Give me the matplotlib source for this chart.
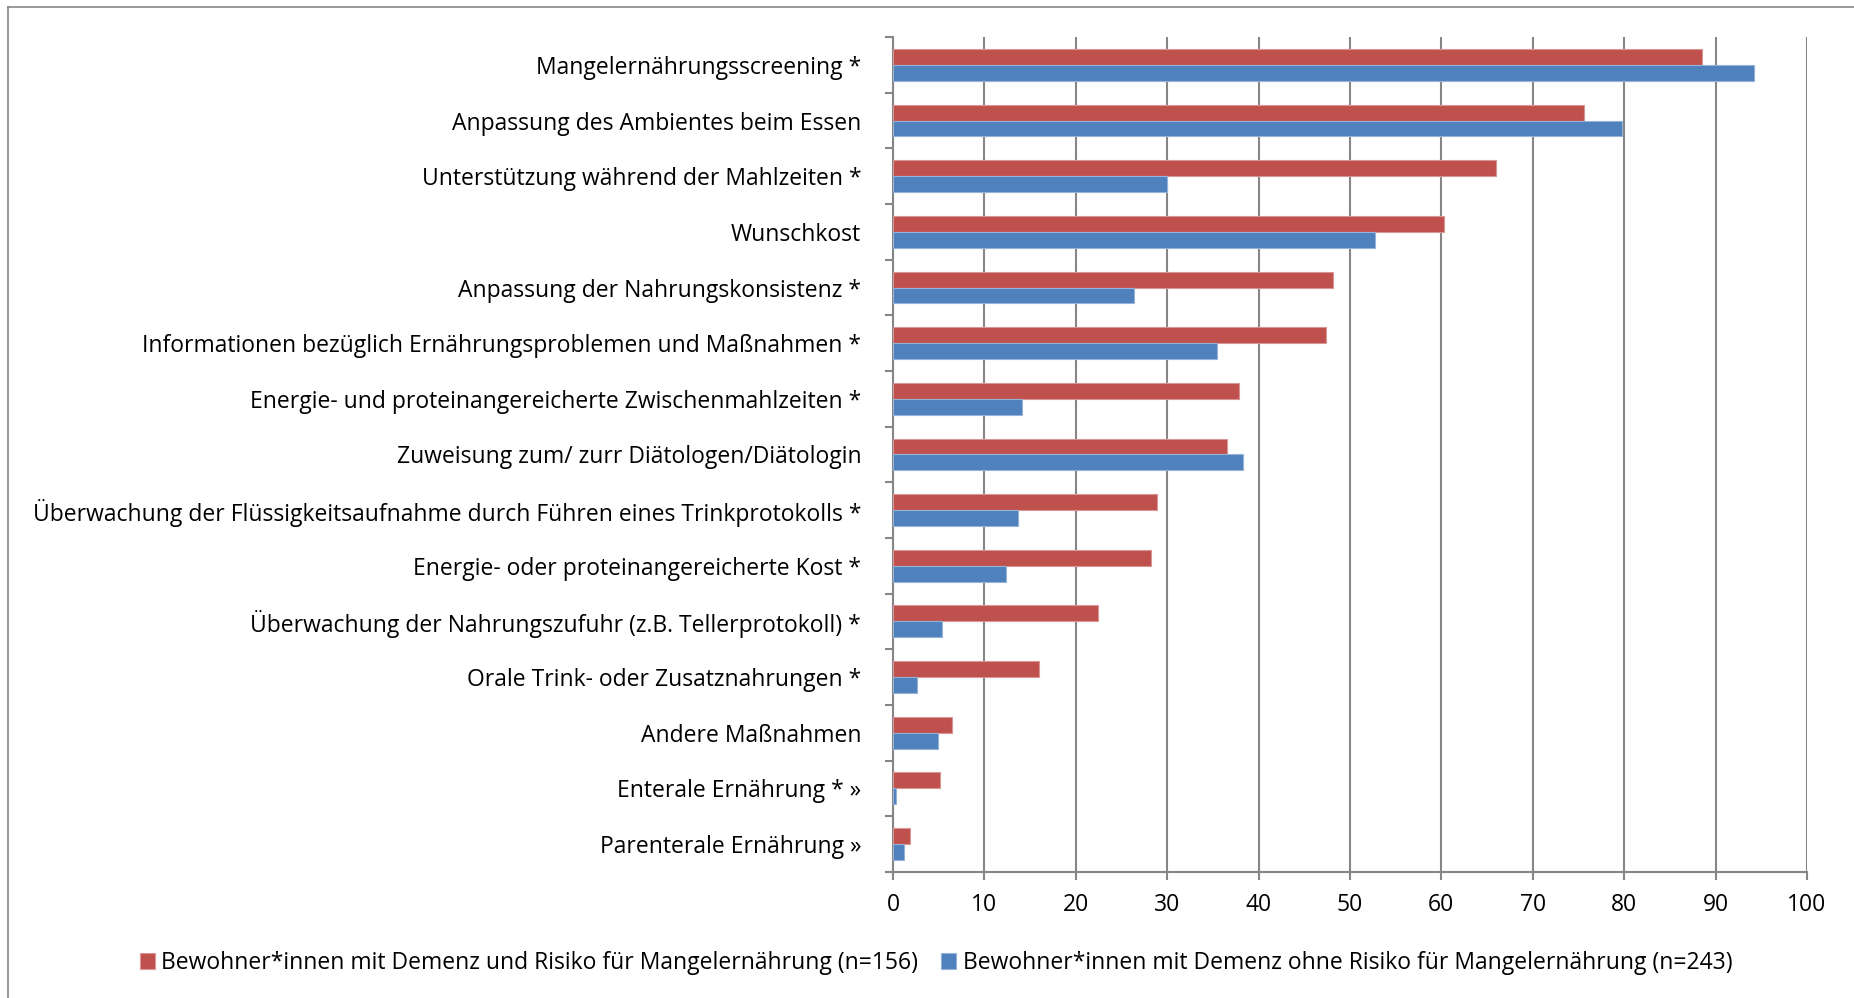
import numpy as np
import matplotlib
matplotlib.use("Agg")
import matplotlib.pyplot as plt
from matplotlib.lines import Line2D

# data (percent)
categories = [
    "Mangelernährungsscreening *",
    "Anpassung des Ambientes beim Essen",
    "Unterstützung während der Mahlzeiten *",
    "Wunschkost",
    "Anpassung der Nahrungskonsistenz *",
    "Informationen bezüglich Ernährungsproblemen und Maßnahmen *",
    "Energie- und proteinangereicherte Zwischenmahlzeiten *",
    "Zuweisung zum/ zurr Diätologen/Diätologin",
    "Überwachung der Flüssigkeitsaufnahme durch Führen eines Trinkprotokolls *",
    "Energie- oder proteinangereicherte Kost *",
    "Überwachung der Nahrungszufuhr (z.B. Tellerprotokoll) *",
    "Orale Trink- oder Zusatznahrungen *",
    "Andere Maßnahmen",
    "Enterale Ernährung * »",
    "Parenterale Ernährung »",
]
with_risk = [88.5, 75.6, 66.0, 60.3, 48.1, 47.4, 37.8, 36.5, 28.9, 28.2, 22.4, 16.0, 6.4, 5.1, 1.9]
without_risk = [94.2, 79.8, 30.0, 52.7, 26.4, 35.5, 14.1, 38.3, 13.7, 12.4, 5.3, 2.6, 4.9, 0.3, 1.2]
series_names = [
    "Bewohner*innen mit Demenz und Risiko für Mangelernährung (n=156)",
    "Bewohner*innen mit Demenz ohne Risiko für Mangelernährung (n=243)",
]
x_ticks = list(range(0, 101, 10))

RED = "#C0504D"
BLUE = "#4F81BD"
GRID = "#868686"
FONT = "Open Sans"
FS = 16.5

plt.rcParams["font.family"] = [FONT, "DejaVu Sans"]

fig = plt.figure(figsize=(18.54, 9.98), dpi=100)
ax = fig.add_axes([0.4817, 0.1263, 0.9746 - 0.4817, 0.9629 - 0.1263])

y = np.arange(len(categories))
h = 0.287
ax.barh(y - h / 2, with_risk, height=h, color=RED, edgecolor="#D99694", linewidth=0.8,
        label=series_names[0], zorder=3)
ax.barh(y + h / 2, without_risk, height=h, color=BLUE, edgecolor="#95B3D7", linewidth=0.8,
        label=series_names[1], zorder=3)

ax.set_ylim(len(categories) - 0.5, -0.5)
ax.set_xlim(0, 100)
ax.set_xticks(x_ticks)
ax.set_xticklabels([str(t) for t in x_ticks], fontsize=FS)

# category labels centred, tick marks at category boundaries
ax.set_yticks(y)
ax.set_yticklabels(categories, fontsize=FS)
ax.tick_params(axis="y", length=0, pad=23)
ax.set_yticks(np.arange(-0.5, len(categories), 1.0), minor=True)
ax.tick_params(axis="y", which="minor", length=6, width=1.5, color=GRID)
ax.tick_params(axis="x", length=6, width=1.5, color=GRID, pad=9)

ax.grid(axis="x", color=GRID, linewidth=1.5, zorder=0)
for side in ["top", "right"]:
    ax.spines[side].set_visible(False)
for side in ["left", "bottom"]:
    ax.spines[side].set_color(GRID)
    ax.spines[side].set_linewidth(1.5)

leg = fig.legend(loc="center", bbox_to_anchor=(0.505, 0.035), ncol=2, frameon=False,
                 fontsize=FS, handlelength=0.65, handleheight=0.65, handletextpad=0.3,
                 columnspacing=1.0)

# outer chart frame (top and left edges visible in reference)
fig.add_artist(Line2D([8 / 1854, 1], [1 - 7 / 998, 1 - 7 / 998], color=GRID, linewidth=1.2,
                      transform=fig.transFigure))
fig.add_artist(Line2D([8 / 1854, 8 / 1854], [0, 1 - 7 / 998], color=GRID, linewidth=1.2,
                      transform=fig.transFigure))

fig.savefig("out.png", dpi=100, facecolor="white")
